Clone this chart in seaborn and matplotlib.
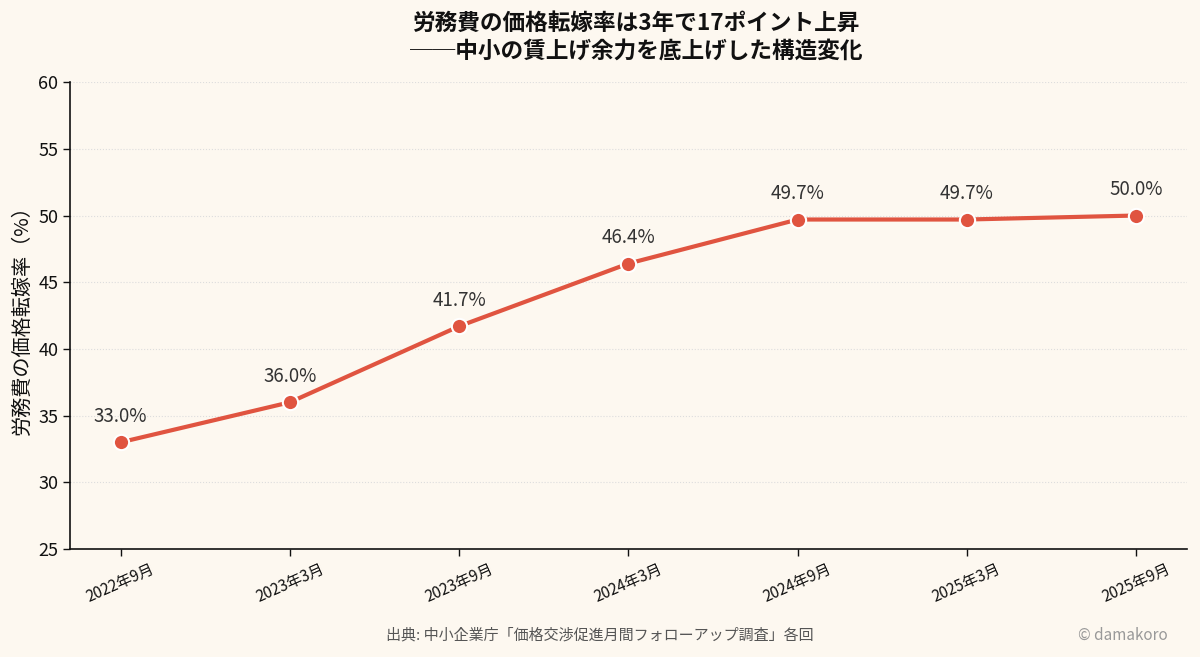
import pandas as pd
import matplotlib
matplotlib.use("Agg")
import matplotlib.pyplot as plt
import seaborn as sns

# Data
periods = ['2022年9月', '2023年3月', '2023年9月', '2024年3月', '2024年9月', '2025年3月', '2025年9月']
rates = [33.0, 36.0, 41.7, 46.4, 49.7, 49.7, 50.0]
y_ticks = [25, 30, 35, 40, 45, 50, 55, 60]

df = pd.DataFrame({'period': periods, 'rate': rates})
df['pos'] = range(len(df))

bg = '#fdf8f0'
line_color = '#e05440'

sns.set_theme(style="white")
plt.rcParams['font.family'] = ['Noto Sans CJK JP', 'DejaVu Sans']

fig = plt.figure(figsize=(12, 6.57), dpi=100, facecolor=bg)
ax = fig.add_axes([0.0583, 0.1644, 0.9307, 0.7106])
ax.set_facecolor(bg)

sns.lineplot(data=df, x='pos', y='rate', ax=ax, color=line_color, linewidth=3,
             marker='o', markersize=11, markeredgecolor='white', markeredgewidth=1.5)

for x, y in zip(df['pos'], df['rate']):
    ax.annotate(f'{y:.1f}%', (x, y), xytext=(0, 11), textcoords='offset points',
                ha='center', va='bottom', fontsize=13.5, color='#333333')

ax.set_xlim(-0.3, 6.3)
ax.set_ylim(25, 60)
ax.set_yticks(y_ticks)
ax.set_xticks(df['pos'])
ax.set_xticklabels(periods, rotation=24, fontsize=11)
ax.tick_params(axis='y', labelsize=13, length=5, width=1, colors='#111111', left=True)
ax.tick_params(axis='x', length=5, width=1, colors='#111111', bottom=True)
ax.yaxis.grid(True, linestyle=':', color='#dddddd', linewidth=0.8)
ax.xaxis.grid(False)
sns.despine(ax=ax)
for s in ['left', 'bottom']:
    ax.spines[s].set_color('#111111')
    ax.spines[s].set_linewidth(1.2)

ax.set_xlabel('')
ax.set_ylabel('労務費の価格転嫁率（%）', fontsize=14.5, color='#111111')

fig.text(0.53, 0.982, '労務費の価格転嫁率は3年で17ポイント上昇\n──中小の賃上げ余力を底上げした構造変化',
         ha='center', va='top', fontsize=16.3, fontweight='bold', color='#111111', linespacing=1.25)
fig.text(0.5, 0.033, '出典: 中小企業庁「価格交渉促進月間フォローアップ調査」各回',
         ha='center', va='center', fontsize=10.8, color='#555555')
fig.text(0.973, 0.033, '© damakoro', ha='right', va='center', fontsize=11, color='#999999')

fig.savefig('out.png', dpi=100, facecolor=bg)
